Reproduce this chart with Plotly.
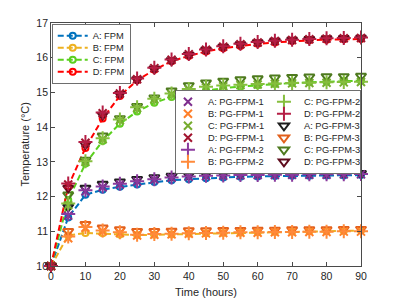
import plotly.graph_objects as go

# ---------------- data ----------------
hours = [0, 5, 10, 15, 20, 25, 30, 35, 40, 45, 50, 55, 60, 65, 70, 75, 80, 85, 90]

fpm_A = [10.0, 11.40, 12.05, 12.20, 12.28, 12.35, 12.42, 12.47, 12.50, 12.53, 12.55, 12.57, 12.58, 12.59, 12.60, 12.60, 12.61, 12.61, 12.62]
fpm_B = [10.0, 10.88, 10.95, 10.94, 10.91, 10.89, 10.90, 10.91, 10.93, 10.94, 10.95, 10.96, 10.97, 10.98, 10.99, 11.00, 11.00, 11.01, 11.02]
fpm_C = [10.0, 11.90, 12.95, 13.60, 14.10, 14.45, 14.70, 14.87, 14.98, 15.06, 15.12, 15.17, 15.21, 15.24, 15.27, 15.29, 15.31, 15.33, 15.34]
fpm_D = [10.0, 12.30, 13.40, 14.25, 14.90, 15.35, 15.65, 15.90, 16.05, 16.18, 16.27, 16.34, 16.40, 16.44, 16.48, 16.50, 16.52, 16.53, 16.54]

pg1_A = [10.0, 11.45, 12.15, 12.27, 12.35, 12.43, 12.49, 12.54, 12.57, 12.59, 12.60, 12.61, 12.62, 12.62, 12.63, 12.63, 12.63, 12.64, 12.64]
pg1_B = [10.0, 10.80, 11.10, 11.00, 10.95, 10.88, 10.90, 10.91, 10.93, 10.94, 10.95, 10.96, 10.96, 10.97, 10.97, 10.98, 10.98, 10.99, 10.99]
pg1_C = [10.0, 11.75, 13.00, 13.65, 14.20, 14.55, 14.80, 14.95, 15.08, 15.14, 15.18, 15.21, 15.23, 15.25, 15.26, 15.27, 15.28, 15.29, 15.30]
pg1_D = [10.0, 12.35, 13.55, 14.40, 14.97, 15.38, 15.70, 15.94, 16.10, 16.23, 16.32, 16.39, 16.44, 16.48, 16.51, 16.53, 16.55, 16.56, 16.57]

pg2_A = [10.0, 11.50, 12.18, 12.29, 12.37, 12.44, 12.50, 12.55, 12.58, 12.60, 12.61, 12.62, 12.62, 12.63, 12.63, 12.64, 12.64, 12.64, 12.65]
pg2_B = [10.0, 10.85, 11.12, 11.02, 10.97, 10.90, 10.92, 10.93, 10.94, 10.95, 10.96, 10.97, 10.97, 10.98, 10.98, 10.99, 10.99, 11.00, 11.00]
pg2_C = [10.0, 11.80, 13.02, 13.68, 14.22, 14.57, 14.82, 14.97, 15.10, 15.16, 15.20, 15.22, 15.24, 15.26, 15.27, 15.28, 15.29, 15.30, 15.31]
pg2_D = [10.0, 12.38, 13.57, 14.42, 14.98, 15.40, 15.71, 15.95, 16.11, 16.24, 16.33, 16.40, 16.45, 16.49, 16.52, 16.54, 16.56, 16.57, 16.58]

pg3_A = [10.0, 11.70, 12.25, 12.36, 12.43, 12.50, 12.55, 12.59, 12.62, 12.64, 12.65, 12.65, 12.66, 12.66, 12.66, 12.67, 12.67, 12.67, 12.67]
pg3_B = [10.0, 11.00, 11.20, 11.10, 11.05, 11.00, 11.00, 11.01, 11.02, 11.02, 11.03, 11.03, 11.04, 11.04, 11.05, 11.05, 11.05, 11.06, 11.06]
pg3_C = [10.0, 12.05, 13.05, 13.75, 14.25, 14.60, 14.85, 15.05, 15.20, 15.28, 15.33, 15.37, 15.40, 15.42, 15.44, 15.45, 15.46, 15.46, 15.47]
pg3_D = [10.0, 12.25, 13.50, 14.35, 14.95, 15.37, 15.68, 15.92, 16.08, 16.22, 16.31, 16.38, 16.44, 16.48, 16.51, 16.53, 16.55, 16.56, 16.57]

x_ticks = [0, 10, 20, 30, 40, 50, 60, 70, 80, 90]
y_ticks = [10, 11, 12, 13, 14, 15, 16, 17]

# ---------------- styling ----------------
FONT = "Liberation Sans, Arial, Helvetica, sans-serif"
TXT = "#262626"

fpm_series = [("A: FPM", fpm_A, "#0072BD"), ("B: FPM", fpm_B, "#EDB120"),
              ("C: FPM", fpm_C, "#5BD01E"), ("D: FPM", fpm_D, "#FF0000")]

pg_series = [
    ("A: PG-FPM-1", pg1_A, "#7E2F8E", "x-thin-open", 8),
    ("B: PG-FPM-1", pg1_B, "#FF7F2A", "x-thin-open", 8),
    ("C: PG-FPM-1", pg1_C, "#77AC30", "x-thin-open", 8),
    ("D: PG-FPM-1", pg1_D, "#A2142F", "x-thin-open", 8),
    ("A: PG-FPM-2", pg2_A, "#8A3A9E", "cross-thin-open", 10),
    ("B: PG-FPM-2", pg2_B, "#FF8A3A", "cross-thin-open", 10),
    ("C: PG-FPM-2", pg2_C, "#86BE3E", "cross-thin-open", 10),
    ("D: PG-FPM-2", pg2_D, "#B51E45", "cross-thin-open", 10),
    ("A: PG-FPM-3", pg3_A, "#1E1E1E", "triangle-down-open", 9),
    ("B: PG-FPM-3", pg3_B, "#E2601C", "triangle-down-open", 9),
    ("C: PG-FPM-3", pg3_C, "#4E7A1F", "triangle-down-open", 9),
    ("D: PG-FPM-3", pg3_D, "#5E0B1C", "triangle-down-open", 9),
]

fig = go.Figure()

for i, (name, ys, col) in enumerate(fpm_series):
    fig.add_trace(go.Scatter(
        x=hours, y=ys, name=name, mode="lines+markers", legend="legend",
        legendrank=i + 1, cliponaxis=False,
        line=dict(color=col, width=2, dash="6px,3px"),
        marker=dict(symbol="circle-open", size=6, color=col, line=dict(width=2, color=col)),
    ))

# draw order: PG-FPM-3 first, then 1 and 2 on top; legend order column-major (2 columns x 6 rows)
draw_order = list(range(8, 12)) + list(range(0, 8))
for i in draw_order:
    name, ys, col, sym, sz = pg_series[i]
    rank = (i % 6) * 2 + (i // 6) + 1
    fig.add_trace(go.Scatter(
        x=hours, y=ys, name=name, mode="markers", legend="legend2",
        legendrank=rank, cliponaxis=False,
        marker=dict(symbol=sym, size=sz, color=col, line=dict(width=2, color=col)),
    ))

axis_common = dict(
    showgrid=False, zeroline=False, showline=True, linecolor="#4a4a4a", linewidth=0.8,
    mirror="ticks", ticks="inside", ticklen=4, tickwidth=0.8, tickcolor="#4a4a4a",
    tickfont=dict(family=FONT, size=10.5, color=TXT),
)

fig.update_layout(
    width=399, height=299,
    margin=dict(l=51, r=38, t=23, b=33, autoexpand=False),
    paper_bgcolor="white", plot_bgcolor="white",
    font=dict(family=FONT, color=TXT),
    xaxis=dict(range=[0, 90], tickvals=x_ticks,
               title=dict(text="Time (hours)", font=dict(family=FONT, size=11, color=TXT), standoff=7),
               **axis_common),
    yaxis=dict(range=[10, 17], tickvals=y_ticks, **axis_common),
    annotations=[dict(text="Temperature (°C)", textangle=-90, xref="paper", yref="paper",
                      x=-0.087, y=0.5, xanchor="center", yanchor="middle", showarrow=False,
                      font=dict(family=FONT, size=11, color=TXT))],
    legend=dict(x=0.003, y=0.9959, xanchor="left", yanchor="top",
                bgcolor="white", bordercolor="#4a4a4a", borderwidth=0.8,
                font=dict(family=FONT, size=9.3, color=TXT), tracegroupgap=0),
    legend2=dict(x=1.0005, y=0.7243, xanchor="right", yanchor="top", orientation="h",
                 entrywidth=51, entrywidthmode="pixels",
                 bgcolor="white", bordercolor="#4a4a4a", borderwidth=0.8,
                 font=dict(family=FONT, size=9.3, color=TXT), tracegroupgap=0),
    showlegend=True,
)

# page margin reset + compact legend rows / box (MATLAB-style tight legends)
compact_js = r"""
document.body.style.margin = '0';
document.body.style.padding = '0';
document.documentElement.style.overflow = 'hidden';
var gd = document.getElementById('{plot_id}');
var ROW = 12;
var groups = gd.querySelectorAll('.infolayer > g');
groups.forEach(function(leg){
  var cls = leg.getAttribute('class') || '';
  if (cls.indexOf('legend') !== 0) return;
  var bgShift = 0, bgShrink = 0;
  if (cls === 'legend2') { bgShift = 8; bgShrink = 8; }
  var traces = leg.querySelectorAll('g.traces');
  var keys = []; var items = [];
  traces.forEach(function(t){
    var tr = t.getAttribute('transform') || '';
    var m = tr.match(/translate\(\s*([-\d.eE]+)[\s,]+([-\d.eE]+)\s*\)/);
    if (!m) return;
    var x = parseFloat(m[1]), y = parseFloat(m[2]);
    var k = Math.round(y * 10);
    items.push([t, x, k]);
    if (keys.indexOf(k) < 0) keys.push(k);
  });
  if (keys.length < 1) return;
  keys.sort(function(a,b){return a-b;});
  var step = keys.length > 1 ? (keys[1] - keys[0]) / 10 : 19;
  var first = keys[0] / 10 - (step - ROW) / 2;
  items.forEach(function(it){
    var idx = keys.indexOf(it[2]);
    it[0].setAttribute('transform', 'translate(' + it[1] + ',' + (first + idx * ROW) + ')');
  });
  var bg = leg.querySelector('rect.bg');
  if (bg) {
    var h = parseFloat(bg.getAttribute('height'));
    bg.setAttribute('height', h - keys.length * (step - ROW));
    var w = parseFloat(bg.getAttribute('width'));
    var bx = parseFloat(bg.getAttribute('x') || '0');
    bg.setAttribute('width', w - bgShrink);
    bg.setAttribute('x', bx + bgShift);
  }
});
"""

fig.write_html("out.html", config={"displayModeBar": False}, post_script=compact_js)
